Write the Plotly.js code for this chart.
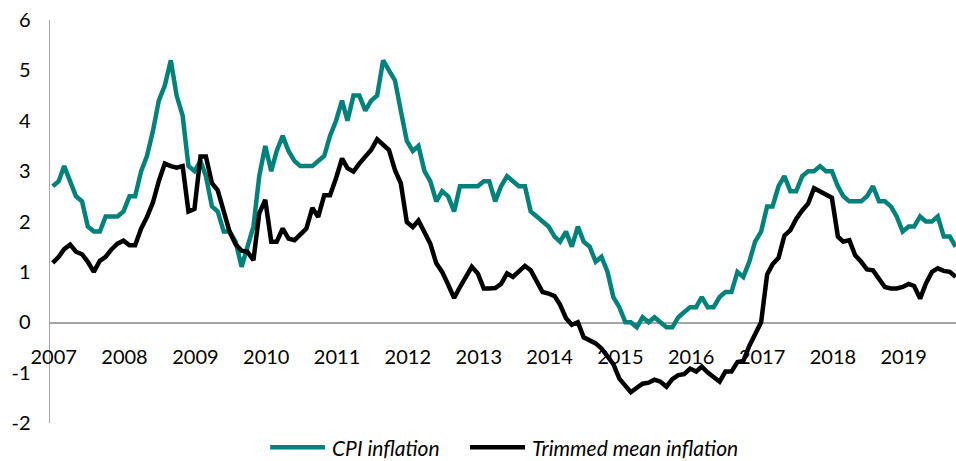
<!DOCTYPE html>
<html>
<head>
<meta charset="utf-8">
<script src="https://cdn.plot.ly/plotly-3.0.1.min.js"></script>
<style>
  html, body { margin: 0; padding: 0; background: #fff; }
  #chart { width: 956px; height: 461px; }
</style>
</head>
<body>
<div id="chart"></div>
<script>
// Monthly data, January 2007 to October 2019
const startYear = 2007;
const years = [2007, 2008, 2009, 2010, 2011, 2012, 2013, 2014, 2015, 2016, 2017, 2018, 2019];
const yearLabels = ["2007", "2008", "2009", "2010", "2011", "2012", "2013", "2014", "2015", "2016", "2017", "2018", "2019"];
const yTickValues = [-2, -1, 0, 1, 2, 3, 4, 5, 6];
const yTickLabels = ["-2", "-1", "0", "1", "2", "3", "4", "5", "6"];
const seriesNames = ["CPI inflation", "Trimmed mean inflation"];
const seriesColors = ["#00827a", "#000000"];

const cpiInflation = [
  2.7, 2.8, 3.1, 2.8, 2.5, 2.4, 1.9, 1.8, 1.8, 2.1, 2.1, 2.1,
  2.2, 2.5, 2.5, 3.0, 3.3, 3.8, 4.4, 4.7, 5.2, 4.5, 4.1, 3.1,
  3.0, 3.2, 2.9, 2.3, 2.2, 1.8, 1.8, 1.6, 1.1, 1.5, 1.9, 2.9,
  3.5, 3.0, 3.4, 3.7, 3.4, 3.2, 3.1, 3.1, 3.1, 3.2, 3.3, 3.7,
  4.0, 4.4, 4.0, 4.5, 4.5, 4.2, 4.4, 4.5, 5.2, 5.0, 4.8, 4.2,
  3.6, 3.4, 3.5, 3.0, 2.8, 2.4, 2.6, 2.5, 2.2, 2.7, 2.7, 2.7,
  2.7, 2.8, 2.8, 2.4, 2.7, 2.9, 2.8, 2.7, 2.7, 2.2, 2.1, 2.0,
  1.9, 1.7, 1.6, 1.8, 1.5, 1.9, 1.6, 1.5, 1.2, 1.3, 1.0, 0.5,
  0.3, 0.0, 0.0, -0.1, 0.1, 0.0, 0.1, 0.0, -0.1, -0.1, 0.1, 0.2,
  0.3, 0.3, 0.5, 0.3, 0.3, 0.5, 0.6, 0.6, 1.0, 0.9, 1.2, 1.6,
  1.8, 2.3, 2.3, 2.7, 2.9, 2.6, 2.6, 2.9, 3.0, 3.0, 3.1, 3.0,
  3.0, 2.7, 2.5, 2.4, 2.4, 2.4, 2.5, 2.7, 2.4, 2.4, 2.3, 2.1,
  1.8, 1.9, 1.9, 2.1, 2.0, 2.0, 2.1, 1.7, 1.7, 1.5
];

const trimmedMeanInflation = [
  1.18, 1.30, 1.45, 1.54, 1.40, 1.35, 1.20, 1.00, 1.22, 1.30, 1.45, 1.56,
  1.62, 1.53, 1.53, 1.86, 2.09, 2.38, 2.80, 3.15, 3.10, 3.07, 3.10, 2.20,
  2.25, 3.29, 3.29, 2.76, 2.62, 2.16, 1.80, 1.55, 1.42, 1.40, 1.23, 2.16,
  2.43, 1.60, 1.60, 1.86, 1.66, 1.63, 1.75, 1.86, 2.27, 2.09, 2.52, 2.52,
  2.86, 3.25, 3.06, 2.99, 3.15, 3.29, 3.42, 3.63, 3.52, 3.42, 3.02, 2.76,
  1.99, 1.89, 2.02, 1.80, 1.56, 1.17, 1.00, 0.75, 0.48, 0.70, 0.92, 1.10,
  0.97, 0.67, 0.67, 0.68, 0.76, 0.97, 0.90, 1.00, 1.12, 1.03, 0.80, 0.60,
  0.57, 0.52, 0.35, 0.08, -0.05, 0.00, -0.30, -0.36, -0.42, -0.52, -0.68, -0.83,
  -1.12, -1.28, -1.39, -1.30, -1.22, -1.20, -1.14, -1.18, -1.28, -1.13, -1.05, -1.03,
  -0.92, -0.98, -0.88, -1.00, -1.10, -1.18, -0.98, -0.98, -0.79, -0.77, -0.47, -0.22,
  0.00, 0.95, 1.15, 1.28, 1.72, 1.83, 2.05, 2.22, 2.36, 2.66, 2.60, 2.55,
  2.47, 1.70, 1.60, 1.63, 1.33, 1.20, 1.05, 1.03, 0.88, 0.70, 0.67, 0.67,
  0.70, 0.76, 0.72, 0.47, 0.77, 1.00, 1.07, 1.02, 1.00, 0.90
];

function pad(n) { return (n < 10 ? "0" : "") + n; }
const months = cpiInflation.map(function (_, i) {
  const y = startYear + Math.floor(i / 12);
  const m = (i % 12) + 1;
  return y + "-" + pad(m) + "-01";
});
const yearTicks = years.map(function (y) { return y + "-01-01"; });

const FONT = "Lato, 'Open Sans', 'DejaVu Sans', sans-serif";
const AXIS_GREY = "#a6a6a6";

const traces = [
  {
    x: months, y: cpiInflation, name: seriesNames[0], type: "scatter", mode: "lines",
    line: { color: seriesColors[0], width: 4.5 }, showlegend: false
  },
  {
    x: months, y: trimmedMeanInflation, name: seriesNames[1], type: "scatter", mode: "lines",
    line: { color: seriesColors[1], width: 4.5 }, showlegend: false
  }
];

// Legend drawn below the plot (paper coordinates), Excel-style long samples
const legendY = -0.06;
const legendItems = [
  { x0: 0.243, x1: 0.3035, tx: 0.309 },
  { x0: 0.4636, x1: 0.5243, tx: 0.5298 }
];
const shapes = legendItems.map(function (it, i) {
  return {
    type: "line", xref: "paper", yref: "paper",
    x0: it.x0, x1: it.x1, y0: legendY, y1: legendY,
    line: { color: seriesColors[i], width: 4.5 }
  };
});
const annotations = legendItems.map(function (it, i) {
  return {
    xref: "paper", yref: "paper", x: it.tx, y: legendY,
    xanchor: "left", yanchor: "middle", showarrow: false,
    text: seriesNames[i],
    font: { family: FONT, size: 21, color: "#000000", style: "italic" }
  };
});

const layout = {
  width: 956, height: 461,
  margin: { l: 50, r: 0, t: 20, b: 38, pad: 0 },
  paper_bgcolor: "#ffffff", plot_bgcolor: "#ffffff",
  font: { family: FONT, size: 20, color: "#000000" },
  showlegend: false,
  shapes: shapes,
  annotations: annotations,
  xaxis: {
    type: "date",
    range: ["2006-12-18", "2019-10-03"],
    anchor: "free", position: 0.25,
    showline: true, linecolor: AXIS_GREY, linewidth: 1.5,
    showgrid: false, zeroline: false, ticks: "",
    tickmode: "array", tickvals: yearTicks, ticktext: yearLabels,
    tickfont: { family: FONT, size: 20, color: "#000000" },
    ticklabelshift: 1, ticklabelstandoff: 16,
    layer: "below traces", fixedrange: true
  },
  yaxis: {
    range: [-2, 6],
    showline: true, linecolor: AXIS_GREY, linewidth: 1.5,
    showgrid: false, zeroline: false, ticks: "",
    tickmode: "array", tickvals: yTickValues, ticktext: yTickLabels,
    tickfont: { family: FONT, size: 20, color: "#000000" },
    ticklabelstandoff: 14,
    layer: "below traces", fixedrange: true
  }
};

Plotly.newPlot("chart", traces, layout, { displayModeBar: false, staticPlot: true });
</script>
</body>
</html>
